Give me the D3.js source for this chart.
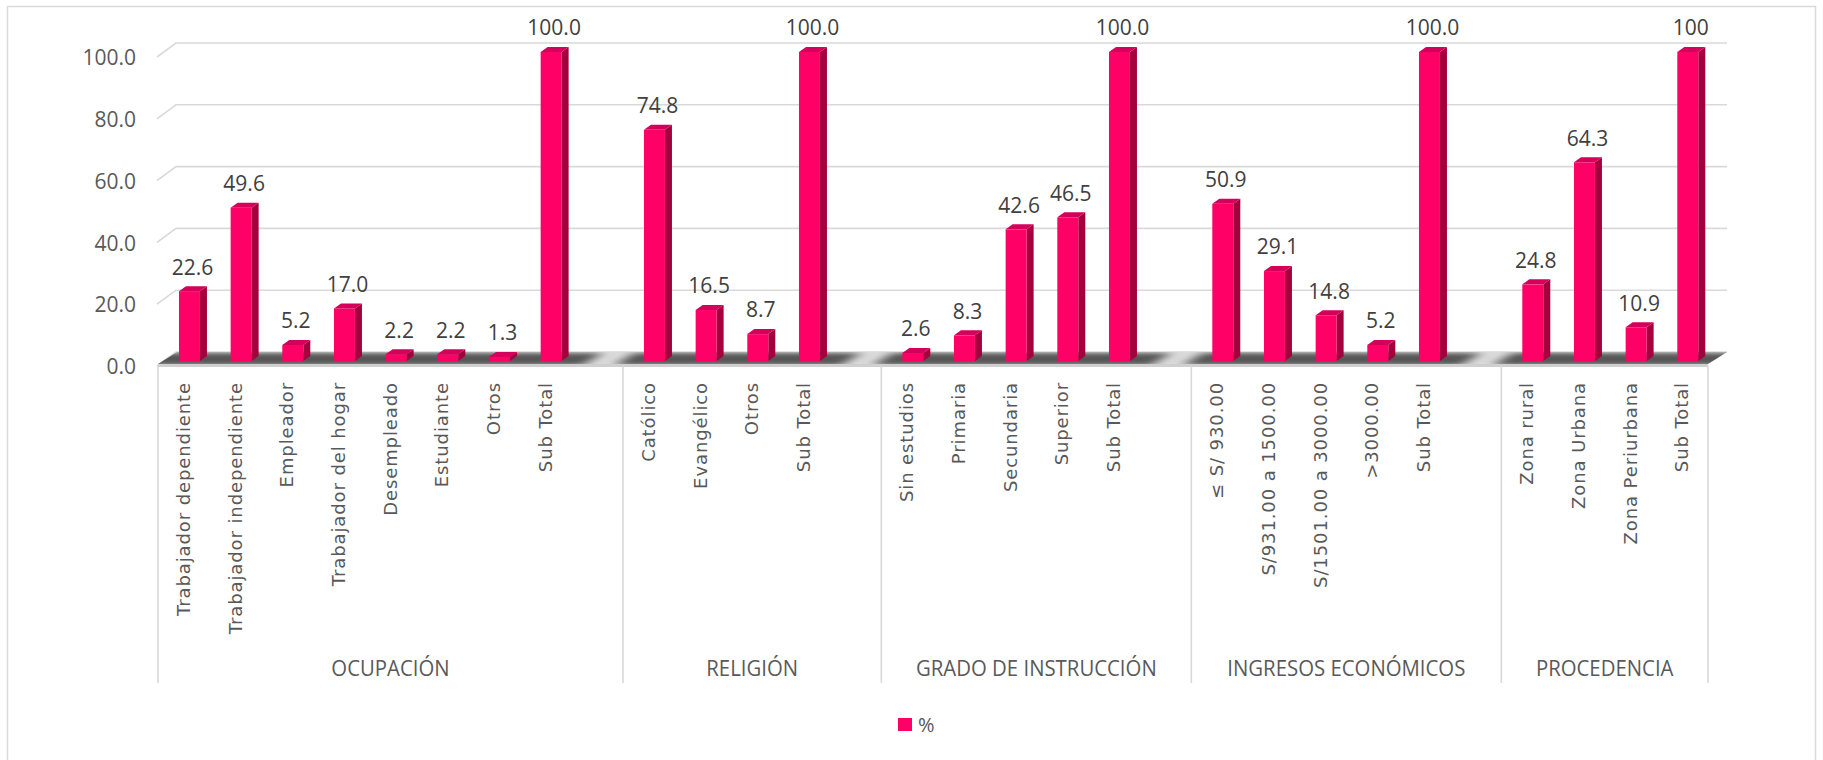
<!DOCTYPE html>
<html><head><meta charset="utf-8">
<script src="https://cdn.jsdelivr.net/npm/d3@7/dist/d3.min.js"></script>
<style>body{margin:0;background:#fff}</style></head>
<body><svg id="c" width="1823" height="760" xmlns="http://www.w3.org/2000/svg"></svg>
<script>
const groups = ["OCUPACIÓN", "RELIGIÓN", "GRADO DE INSTRUCCIÓN", "INGRESOS ECONÓMICOS", "PROCEDENCIA"];
const groupCategories = [
  ["Trabajador dependiente", "Trabajador independiente", "Empleador", "Trabajador del hogar", "Desempleado", "Estudiante", "Otros", "Sub Total"],
  ["Católico", "Evangélico", "Otros", "Sub Total"],
  ["Sin estudios", "Primaria", "Secundaria", "Superior", "Sub Total"],
  ["≤ S/ 930.00", "S/931.00 a 1500.00", "S/1501.00 a 3000.00", ">3000.00", "Sub Total"],
  ["Zona rural", "Zona Urbana", "Zona Periurbana", "Sub Total"]
];
const groupValues = [
  [22.6, 49.6, 5.2, 17.0, 2.2, 2.2, 1.3, 100.0],
  [74.8, 16.5, 8.7, 100.0],
  [2.6, 8.3, 42.6, 46.5, 100.0],
  [50.9, 29.1, 14.8, 5.2, 100.0],
  [24.8, 64.3, 10.9, 100]
];
const groupValueLabels = [
  ["22.6", "49.6", "5.2", "17.0", "2.2", "2.2", "1.3", "100.0"],
  ["74.8", "16.5", "8.7", "100.0"],
  ["2.6", "8.3", "42.6", "46.5", "100.0"],
  ["50.9", "29.1", "14.8", "5.2", "100.0"],
  ["24.8", "64.3", "10.9", "100"]
];
const yTicks = [0, 20, 40, 60, 80, 100];
const seriesName = "%";

// Build category slots (Excel-style blank slot after each group)
const slots = [];
groups.forEach((g, gi) => {
  groupCategories[gi].forEach((c, ci) => slots.push({id: gi + "-" + ci, group: gi, name: c, value: groupValues[gi][ci], label: groupValueLabels[gi][ci]}));
  if (gi < groups.length - 1) slots.push({id: gi + "-blank", group: gi, name: "", value: null});
});

const svg = d3.select("#c");
const x = d3.scaleBand().domain(slots.map(s => s.id)).range([158, 1708]).padding(0);
const bw = x.bandwidth();
const yFront = d3.scaleLinear().domain([0, 100]).range([366, 57]);
const DX = 19, DY = -14;
const barT = 5 / 14;
const yBar = v => yFront(v) + DY * barT;
const barW = bw * 0.406, barDX = 7, barDY = -5;
const xL = x.range()[0], xR = x.range()[1];
const numFont = "Open Sans";

// chart border
svg.append("rect").attr("x", 7.5).attr("y", 6.5).attr("width", 1808).attr("height", 770)
  .attr("fill", "none").attr("stroke", "#d9d9d9").attr("stroke-width", 1.5);

// gridlines (side wall diagonal + back wall)
svg.append("g").selectAll("path").data(yTicks).join("path")
  .attr("d", v => `M${xL - 1},${yFront(v)} L${xL + DX - 1},${yFront(v) + DY} L${xR + DX},${yFront(v) + DY}`)
  .attr("fill", "none").attr("stroke", "#d9d9d9").attr("stroke-width", 1.6);

// y axis labels
const yAxis = d3.axisLeft(yFront).tickValues(yTicks).tickFormat(d3.format(".1f")).tickSize(0).tickPadding(8);
const ga = svg.append("g").attr("transform", "translate(144,1)").call(yAxis);
ga.select(".domain").remove();
ga.selectAll("text").attr("font-family", numFont).attr("font-size", 21).attr("fill", "#595959");

// floor
const defs = svg.append("defs");
const fy0 = yFront(0) - 2;
const floorPts = [[xL, fy0], [xL + DX, fy0 + DY + 2], [xR + DX, fy0 + DY + 2], [xR, fy0]];
defs.append("clipPath").attr("id", "floorClip").append("polygon").attr("points", floorPts.map(p => p.join(",")).join(" "));
defs.append("filter").attr("id", "blur").attr("x", "-20%").attr("y", "-200%").attr("width", "140%").attr("height", "500%")
  .append("feGaussianBlur").attr("stdDeviation", "7 2");
svg.append("polygon").attr("points", floorPts.map(p => p.join(",")).join(" ")).attr("fill", "#dcdcdc");
const floorG = svg.append("g").attr("clip-path", "url(#floorClip)");
groups.forEach((g, gi) => {
  const gs = slots.filter(s => s.group === gi && s.value !== null);
  const a = x(gs[0].id) - (gi === 0 ? 30 : 8);
  const b = x(gs[gs.length - 1].id) + bw + (gi === groups.length - 1 ? 40 : 12);
  floorG.append("polygon")
    .attr("points", [[a, fy0 + 1], [a + DX, fy0 + DY + 3], [b + DX, fy0 + DY + 3], [b, fy0 + 1]].map(p => p.join(",")).join(" "))
    .attr("fill", "#575757").attr("filter", "url(#blur)");
});
svg.append("rect").attr("x", xL).attr("y", fy0).attr("width", xR - xL).attr("height", 3).attr("fill", "#cfcfcf");

// bars
const bars = svg.append("g").selectAll("g").data(slots.filter(s => s.value !== null)).join("g");
bars.each(function(d) {
  const g = d3.select(this);
  const bx = x(d.id) + bw * 0.406;
  const yt = yBar(d.value), yb = yBar(0);
  g.append("polygon").attr("points", `${bx + barW},${yt} ${bx + barW + barDX},${yt + barDY} ${bx + barW + barDX},${yb + barDY} ${bx + barW},${yb}`).attr("fill", "#a3003d");
  g.append("rect").attr("x", bx).attr("y", yt).attr("width", barW).attr("height", yb - yt).attr("fill", "#ff0066");
  g.append("polygon").attr("points", `${bx},${yt} ${bx + barW},${yt} ${bx + barW + barDX},${yt + barDY} ${bx + barDX},${yt + barDY}`).attr("fill", "#d4005a");
  g.append("text").attr("x", bx + barW / 2 + 3).attr("y", yt - 24).attr("dy", "0.35em")
    .attr("text-anchor", "middle").attr("font-family", numFont).attr("font-size", 21).attr("fill", "#404040").text(d.label);
});

// category axis: dividers
const dividerX = groups.map((g, gi) => x(slots.find(s => s.group === gi).id)).concat([xR]);
svg.append("g").selectAll("line").data(dividerX).join("line")
  .attr("x1", d => d).attr("x2", d => d).attr("y1", 366).attr("y2", 683)
  .attr("stroke", "#d9d9d9").attr("stroke-width", 1.6);

// category labels (rotated)
svg.append("g").selectAll("text").data(slots.filter(s => s.name !== "")).join("text")
  .attr("transform", d => `translate(${x(d.id) + bw / 2},382) rotate(-90)`)
  .attr("text-anchor", "end").attr("dy", "0.35em")
  .attr("font-family", "DejaVu Sans").attr("font-size", 18).attr("letter-spacing", 0.9).attr("fill", "#595959")
  .text(d => d.name);

// group labels
svg.append("g").selectAll("text").data(groups).join("text")
  .attr("transform", (d, i) => `translate(${(dividerX[i] + dividerX[i + 1]) / 2},669) scale(0.97,1)`)
  .attr("dy", "0.35em")
  .attr("text-anchor", "middle").attr("font-family", numFont).attr("font-size", 21).attr("fill", "#595959")
  .text(d => d);

// legend
const lg = svg.append("g").attr("transform", "translate(898,718)");
lg.append("rect").attr("width", 14).attr("height", 13).attr("fill", "#ff0066");
lg.append("text").attr("x", 20).attr("y", 6.5).attr("dy", "0.35em").attr("font-family", numFont).attr("font-size", 20).attr("fill", "#595959").text(seriesName);
</script>
</body></html>
